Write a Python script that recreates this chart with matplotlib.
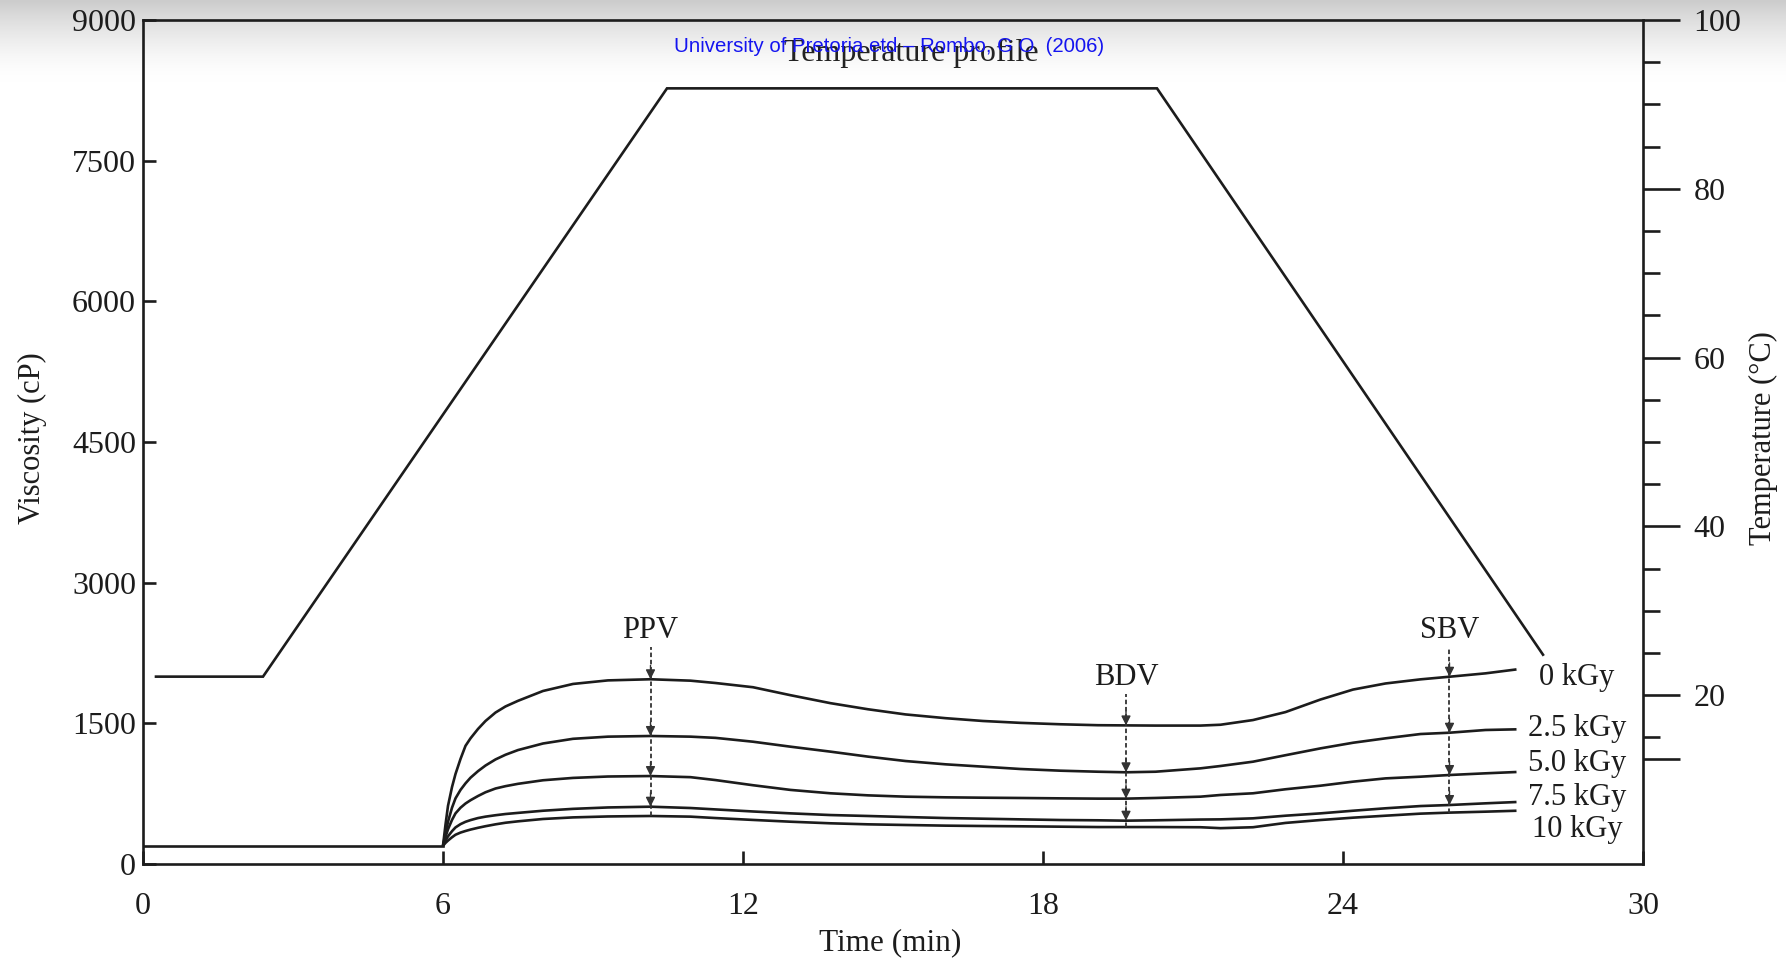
import numpy as np
import matplotlib
matplotlib.use("Agg")
import matplotlib.pyplot as plt

plt.rcParams['font.family'] = ['Liberation Serif', 'DejaVu Serif']

# RVA pasting curves of irradiated samples (viscosity in cP vs time in min)
base_time = [0.0, 6.0]
base_visc = [195, 195]

time = [6.0, 6.05, 6.1, 6.18, 6.25, 6.35, 6.45, 6.55, 6.7, 6.85, 7.05, 7.25,
        7.5, 8.0, 8.6, 9.3, 10.15, 10.95,
        11.45, 12.2, 12.95, 13.75, 14.5, 15.25, 16.05, 16.8, 17.55, 18.35,
        19.1, 19.66, 20.25, 21.15, 21.55, 22.2, 22.85, 23.55, 24.2, 24.85,
        25.55, 26.13, 26.85, 27.47]

visc_0 = [195, 420, 620, 820, 960, 1120, 1260, 1340, 1440, 1525, 1615, 1680,
          1740, 1845, 1920, 1958, 1970, 1955,
          1930, 1885, 1800, 1715, 1650, 1595, 1555, 1525, 1505, 1490,
          1480, 1478, 1476, 1476, 1485, 1535, 1620, 1754, 1860, 1925,
          1969, 1997, 2033, 2075]
visc_25 = [195, 330, 450, 600, 700, 790, 860, 920, 990, 1050, 1115, 1165,
           1215, 1285, 1335, 1358, 1365, 1358,
           1345, 1304, 1251, 1198, 1145, 1098, 1063, 1038, 1013, 995,
           984, 978, 984, 1020, 1045, 1091, 1160, 1233, 1293, 1340,
           1386, 1400, 1429, 1436]
visc_50 = [195, 290, 370, 470, 540, 600, 645, 680, 725, 765, 805, 830,
           855, 893, 918, 933, 938, 926,
           895, 840, 790, 754, 732, 718, 711, 707, 704, 700,
           697, 697, 704, 718, 736, 754, 797, 835, 878, 913,
           931, 949, 967, 981]
visc_75 = [195, 250, 295, 350, 390, 425, 450, 468, 490, 505, 520, 533,
           545, 568, 588, 603, 611, 597,
           582, 560, 540, 522, 512, 501, 490, 483, 476, 469,
           466, 462, 466, 474, 476, 487, 515, 540, 568, 594,
           618, 629, 647, 661]
visc_10 = [195, 225, 250, 285, 312, 335, 352, 367, 386, 403, 423, 440,
           455, 480, 497, 507, 512, 505,
           490, 470, 451, 434, 423, 416, 409, 405, 402, 398,
           394, 394, 394, 392, 382, 392, 438, 469, 494, 515,
           537, 548, 558, 568]

curves = [visc_0, visc_25, visc_50, visc_75, visc_10]
dose_labels = ['0 kGy', '2.5 kGy', '5.0 kGy', '7.5 kGy', '10 kGy']
dose_label_y = [1994, 1450, 1077, 714, 363]

# temperature programme (deg C)
temp_time = [0.26, 2.4, 10.48, 20.28, 28.0]
temp_c = [22.2, 22.2, 91.9, 91.9, 24.8]

# PPV / BDV / SBV markers: (name, time index, label height in cP)
markers = [('PPV', time.index(10.15), 2495),
           ('BDV', time.index(19.66), 1994),
           ('SBV', time.index(26.13), 2495)]

ink = '#1c1c1c'
lw = 1.9

fig = plt.figure(figsize=(17.86, 9.6), dpi=100)

# scanner shading along the top edge
bg = fig.add_axes([0, 0, 1, 1], zorder=0)
bg.axis('off')
rows = np.linspace(0, 1, 960)
shade = 1 - 0.2 * np.clip(1 - rows / 0.085, 0, 1) ** 1.6
bg.imshow(np.dstack([shade[:, None]] * 3), aspect='auto',
          extent=[0, 1, 0, 1], origin='upper')
bg.set_xlim(0, 1)
bg.set_ylim(0, 1)

ax = fig.add_axes([143 / 1786, 96 / 960, 1500 / 1786, 844 / 960], zorder=2)
ax.set_facecolor('none')

ax.plot(base_time, base_visc, color=ink, lw=lw)
for v in curves:
    ax.plot(time, v, color=ink, lw=lw, solid_capstyle='butt')

for name, i, ly in markers:
    t = time[i]
    ax.text(t, ly, name, ha='center', va='center', fontsize=22, color=ink)
    top = ly - 180
    levels = [top] + [c[i] for c in curves]
    ax.vlines(t, levels[-1], top, colors='#333333', lw=1.3,
              linestyles=(0, (2.5, 1.5)))
    for v in levels[1:-1]:
        ax.annotate('', xy=(t, v), xytext=(0, 10), textcoords='offset points',
                    arrowprops=dict(arrowstyle='-|>', color='#333333', lw=1.0,
                                    mutation_scale=14, shrinkA=0, shrinkB=0))

for lab, ly in zip(dose_labels, dose_label_y):
    ax.text(28.68, ly, lab, ha='center', va='center', fontsize=22, color=ink)

ax.set_xlim(0, 30)
ax.set_ylim(0, 9000)
ax.set_xticks([0, 6, 12, 18, 24, 30])
ax.set_yticks([0, 1500, 3000, 4500, 6000, 7500, 9000])
ax.tick_params(axis='both', direction='in', length=9.5, width=lw,
               labelsize=23, colors=ink)
ax.tick_params(axis='x', pad=20)
ax.tick_params(axis='y', pad=5)
ax.spines['right'].set_visible(False)
for s in ['left', 'bottom', 'top']:
    ax.spines[s].set_linewidth(lw)
    ax.spines[s].set_color(ink)

tx = ax.twinx()
tx.set_zorder(3)
tx.plot(temp_time, temp_c, color=ink, lw=lw, solid_joinstyle='miter')
tx.set_ylim(0, 100)
tx.set_yticks([12.5, 20, 40, 60, 80, 100])
tx.set_yticklabels(['', '20', '40', '60', '80', '100'])
tx.set_yticks([15, 25, 30, 35, 45, 50, 55, 65, 70, 75, 85, 90, 95], minor=True)
tx.tick_params(axis='y', which='major', direction='out', length=26.5, width=lw,
               labelsize=23, pad=10, colors=ink)
tx.tick_params(axis='y', which='minor', direction='out', length=12.5, width=lw,
               colors=ink)
for s in ['left', 'top', 'bottom']:
    tx.spines[s].set_visible(False)
tx.spines['right'].set_linewidth(lw)
tx.spines['right'].set_color(ink)

fig.text(32 / 1786, 1 - 438 / 960, 'Viscosity (cP)', rotation=90,
         ha='center', va='center', fontsize=22, color=ink)
fig.text(1763 / 1786, 1 - 438 / 960, 'Temperature (°C)', rotation=90,
         ha='center', va='center', fontsize=22, color=ink)
fig.text(890 / 1786, 1 - 943 / 960, 'Time (min)',
         ha='center', va='center', fontsize=22.5, color=ink)
fig.text(911 / 1786, 1 - 53 / 960, 'Temperature profile',
         ha='center', va='center', fontsize=23, color='#222222', zorder=5)
fig.text(889 / 1786, 1 - 47 / 960,
         'University of Pretoria etd \u2013 Rombo, G O  (2006)',
         ha='center', va='center', fontsize=14.7, color='#1414f0',
         family=['Liberation Sans', 'DejaVu Sans'], zorder=6)

fig.savefig('out.png', dpi=100)
